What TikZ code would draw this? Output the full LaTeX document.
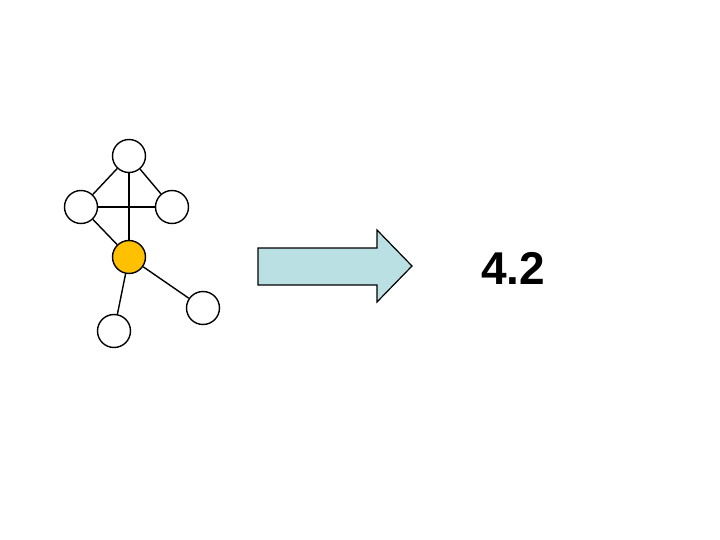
\documentclass[tikz,border=0pt]{standalone}
\usepackage{fontspec}
\setmainfont{Liberation Sans}
\definecolor{arrowfill}{RGB}{187,224,227}
\definecolor{hub}{RGB}{255,192,0}
\begin{document}
\begin{tikzpicture}[x=1pt,y=-1pt,
  vtx/.style={circle,draw=black,line width=1.4pt,fill=white,minimum size=33pt,inner sep=0pt},
  edge/.style={draw=black,line width=1.4pt}]
\useasboundingbox (0,0) rectangle (720,540);
\node[vtx] (t) at (129,156) {};
\node[vtx] (l) at (81,207) {};
\node[vtx] (r) at (172,207) {};
\node[vtx,fill=hub] (c) at (129,257) {};
\node[vtx] (br) at (203,308) {};
\node[vtx] (bl) at (114,331) {};
\draw[edge] (t) -- (l);
\draw[edge] (t) -- (r);
\draw[edge] (l) -- (r);
\draw[edge] (t) -- (c);
\draw[edge] (l) -- (c);
\draw[edge] (c) -- (bl);
\draw[edge] (c) -- (br);
\draw[line width=1.2pt,fill=arrowfill] (258,248) -- (377,248) -- (377,230) -- (412,266) -- (377,302) -- (377,285) -- (258,285) -- cycle;
\node[font=\bfseries\fontsize{46}{50}\selectfont,inner sep=0pt] (lab) at (513,268) {4.2};
\end{tikzpicture}
\end{document}
